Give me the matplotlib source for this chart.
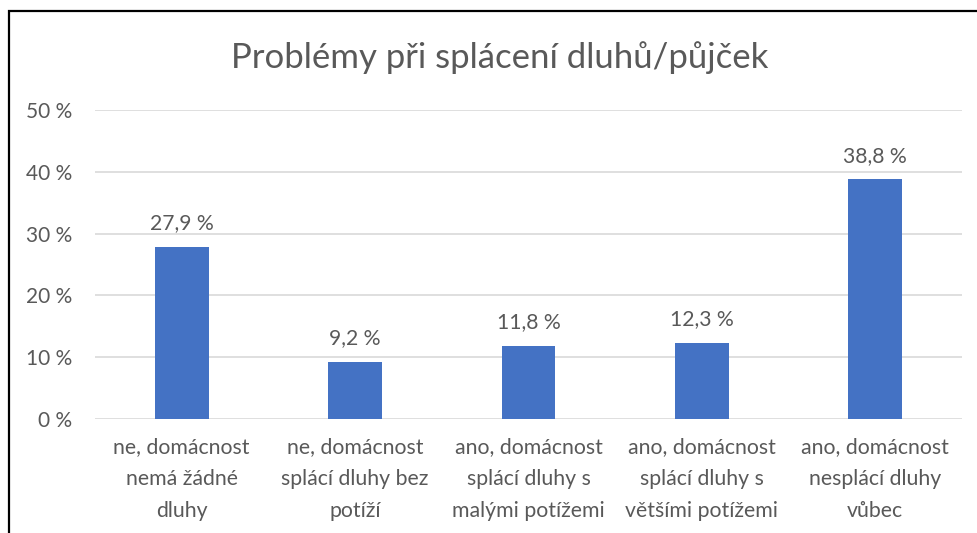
import matplotlib.pyplot as plt
from matplotlib.patches import Rectangle
from matplotlib.ticker import FuncFormatter

categories = ["ne, domácnost\nnemá žádné\ndluhy",
              "ne, domácnost\nsplácí dluhy bez\npotíží",
              "ano, domácnost\nsplácí dluhy s\nmalými potížemi",
              "ano, domácnost\nsplácí dluhy s\nvětšími potížemi",
              "ano, domácnost\nnesplácí dluhy\nvůbec"]
values = [27.9, 9.2, 11.8, 12.3, 38.8]
yticks = [0, 10, 20, 30, 40, 50]
title = "Problémy při splácení dluhů/půjček"

txt = "#595959"
plt.rcParams['font.family'] = ['Lato', 'DejaVu Sans']

fig = plt.figure(figsize=(9.77, 5.33), dpi=100)
# chart frame (only left and top edges fall inside the image)
fig.add_artist(Rectangle((8.5 / 977, -0.1), 1.2, 1.1 - 11.5 / 533, transform=fig.transFigure,
                         fill=False, edgecolor="black", lw=1.6))

ax = fig.add_axes([95 / 977, 1 - 419 / 533, (962 - 95) / 977, (419 - 110) / 533])
x = range(len(values))
ax.bar(x, values, width=0.31, color="#4472C4", zorder=3)
for xi, v in zip(x, values):
    ax.text(xi, v + 2.2, f"{v:.1f} %".replace(".", ","), ha="center", va="bottom",
            fontsize=15.2, color=txt)

ax.set_xlim(-0.5, len(values) - 0.5)
ax.set_ylim(0, 50)
ax.set_yticks(yticks)
ax.yaxis.set_major_formatter(FuncFormatter(lambda v, p: f"{v:.0f} %"))
ax.grid(axis="y", color="#D9D9D9", lw=1.2, zorder=0)
ax.set_xticks(list(x))
ax.set_xticklabels(categories, fontsize=15.3, color=txt, linespacing=1.75)
ax.tick_params(axis="y", length=0, labelsize=15, labelcolor=txt, pad=16.5)
ax.tick_params(axis="x", length=0, pad=13)
for s in ax.spines.values():
    s.set_visible(False)

fig.text(500 / 977, 1 - 58 / 533, title, ha="center", va="center", fontsize=25, color=txt)

fig.savefig("out.png", dpi=100)
